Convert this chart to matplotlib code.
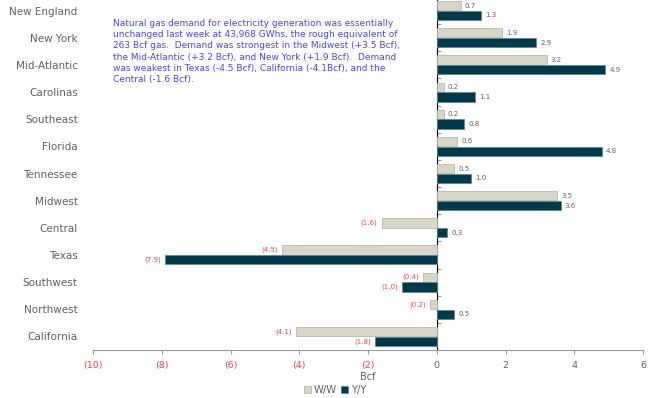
import matplotlib
matplotlib.use("Agg")
import matplotlib.pyplot as plt
import numpy as np
from matplotlib.ticker import FixedLocator, NullFormatter

regions = ["New England", "New York", "Mid-Atlantic", "Carolinas", "Southeast",
           "Florida", "Tennessee", "Midwest", "Central", "Texas", "Southwest",
           "Northwest", "California"]
ww = [0.7, 1.9, 3.2, 0.2, 0.2, 0.6, 0.5, 3.5, -1.6, -4.5, -0.4, -0.2, -4.1]
yy = [1.3, 2.9, 4.9, 1.1, 0.8, 4.8, 1.0, 3.6, 0.3, -7.9, -1.0, 0.5, -1.8]
x_ticks = [-10, -8, -6, -4, -2, 0, 2, 4, 6]

note = ("Natural gas demand for electricity generation was essentially\n"
        "unchanged last week at 43,968 GWhs, the rough equivalent of\n"
        "263 Bcf gas.  Demand was strongest in the Midwest (+3.5 Bcf),\n"
        "the Mid-Atlantic (+3.2 Bcf), and New York (+1.9 Bcf).  Demand\n"
        "was weakest in Texas (-4.5 Bcf), California (-4.1Bcf), and the\n"
        "Central (-1.6 Bcf).")

LIGHT = "#d8d5c9"
LIGHT_EDGE = "#b9b6ab"
DARK = "#003a4a"
DARK_EDGE = "#5a8a98"
GRAY = "#606060"
RED = "#ff4040"
AXIS = "#9a9a9a"

def fmt(v):
    return f"({abs(v):.1f})" if v < 0 else f"{v:.1f}"

fig = plt.figure(figsize=(6.56, 3.98), dpi=100)
ax = fig.add_axes([93 / 656, 48 / 398, 550 / 656, 353 / 398])

y = np.arange(len(regions))
h = 0.34
off = 0.18
b1 = ax.barh(y - off, ww, height=h, color=LIGHT, edgecolor=LIGHT_EDGE, linewidth=0.6, label="W/W")
b2 = ax.barh(y + off, yy, height=h, color=DARK, edgecolor=DARK_EDGE, linewidth=0.6, label="Y/Y")

for bars, vals in ((b1, ww), (b2, yy)):
    for bar, v in zip(bars, vals):
        cy = bar.get_y() + bar.get_height() / 2
        if v < 0:
            ax.annotate(fmt(v), (v, cy), xytext=(-3, 0), textcoords="offset points",
                        ha="right", va="center", fontsize=5, color=RED)
        else:
            ax.annotate(fmt(v), (v, cy), xytext=(3, 0), textcoords="offset points",
                        ha="left", va="center", fontsize=5, color=GRAY)

ax.set_xlim(-10, 6)
ax.set_ylim(len(regions) - 0.5, -0.5)

ax.set_xticks(x_ticks)
ax.set_xticklabels([fmt(t).replace(".0", "") for t in x_ticks], fontsize=6.8)
for lbl, t in zip(ax.get_xticklabels(), x_ticks):
    lbl.set_color(RED if t < 0 else GRAY)
ax.tick_params(axis="x", length=3, color=AXIS, pad=5)
ax.set_xlabel("Bcf", fontsize=7, color=GRAY, labelpad=1)

ax.set_yticks(y)
ax.set_yticklabels(regions, fontsize=7.5, color=GRAY)
ax.tick_params(axis="y", length=0, pad=11)

for s in ("top", "right", "left"):
    ax.spines[s].set_visible(False)
ax.spines["bottom"].set_color(AXIS)
ax.spines["bottom"].set_linewidth(0.8)

# vertical zero axis with ticks between categories
zero = ax.secondary_yaxis((0 - (-10)) / 16)
zero.yaxis.set_major_locator(FixedLocator(np.arange(len(regions) + 1) - 0.5))
zero.yaxis.set_major_formatter(NullFormatter())
zero.tick_params(axis="y", length=3, color=AXIS, direction="out")
zero.spines["left"].set_color(AXIS)
zero.spines["left"].set_linewidth(0.8)

ax.text(113 / 656, 379 / 398, note, transform=fig.transFigure, fontsize=6.5,
        color="#4646ff", va="top", ha="left", linespacing=1.32)

fig.legend(handles=[b1, b2], loc="lower center", bbox_to_anchor=(335 / 656, -0.016),
           ncol=2, frameon=False, fontsize=7.2, handlelength=0.7, handleheight=0.7,
           handletextpad=0.3, columnspacing=0.4, labelcolor=GRAY)

fig.savefig("out.png", dpi=100)
